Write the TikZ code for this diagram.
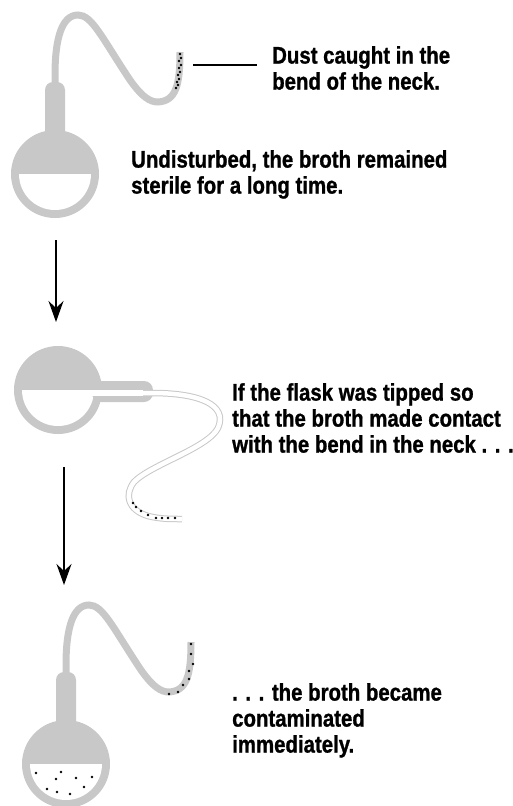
\documentclass[tikz,border=0pt]{standalone}
\usepackage{fontspec}
\setmainfont{Liberation Sans}[FakeStretch=0.85, BoldFeatures={FakeBold=1}]
\usetikzlibrary{arrows.meta}

\definecolor{glass}{RGB}{200,200,200}

\tikzset{
  caption/.style={anchor=north west, inner sep=0pt, align=left,
    font=\fontsize{24}{26}\selectfont\bfseries},
  speck/.style={fill=black},
  stepdown/.style={line width=1.6pt, -{Stealth[length=21pt,width=15pt,inset=7pt]}},
  leader/.style={line width=1.5pt, shorten >=15pt},
  % swan-neck flask standing upright
  flask/.pic={
    \fill[glass] (55,174) circle (44);
    \fill[white] (19,174) arc[start angle=180, end angle=0, radius=36] -- cycle;
    \fill[glass, rounded corners=8] (45,140) |- (65,82) -- (65,140) -- cycle;
    \draw[glass, line width=7pt] (55,95) -- (55,75)
      .. controls (55,38) and (62,15) .. (78,15)
      .. controls (92,15) and (102,38) .. (130,80)
      .. controls (142,97) and (150,102) .. (158,102)
      .. controls (176,101) and (180,85) .. (180,52);
  }
}

\begin{document}
\begin{tikzpicture}[x=1pt,y=-1pt]
  \useasboundingbox (0,0) rectangle (513,806);

  % upright flask, dust sits in the bend
  \pic at (0,0) {flask};
  \foreach \x/\y in {180/54,181/58,179/61,181/65,179/68,180/72,178/75,179/79,177/82,178/85,176/88}
    \fill[speck] (\x,\y) circle (1.3);
  \coordinate (dustmark) at (193,65);
  \node[caption] (dusttext) at (272,46) {Dust caught in the\\bend of the neck.};
  \draw[leader] (dustmark) -- (dustmark -| dusttext.west);
  \node[caption] (sterile) at (131,150) {Undisturbed, the broth remained\\sterile for a long time.};

  \coordinate (step1a) at (56,240);
  \coordinate (step1b) at (56,322);
  \draw[stepdown] (step1a) -- (step1b);

  % tipped flask, broth runs down into the neck
  \fill[glass] (58,390) circle (44);
  \fill[white] (22,390) arc[start angle=180, end angle=0, radius=36] -- cycle;
  \fill[glass, rounded corners=9] (92,381) -| (153,402) -- (92,402) -- cycle;
  \fill[white] (85,390) rectangle (143,396);
  \draw[glass, line width=1pt, double=white, double distance=4.5pt] (143,393) -- (152,393)
    .. controls (200,393) and (228,405) .. (218,428)
    .. controls (208,448) and (150,465) .. (134,482)
    .. controls (124,495) and (128,510) .. (148,516)
    .. controls (160,519) and (170,519) .. (182,519);
  \foreach \x/\y in {133/503,136/507,141/511,148/515,156/518,162/518,168/518,175/518}
    \fill[speck] (\x,\y) circle (1.3);
  \node[caption] (tipped) at (232,383) {If the flask was tipped so\\that the broth made contact\\with the bend in the neck . . .};

  \coordinate (step2a) at (64,467);
  \coordinate (step2b) at (64,585);
  \draw[stepdown] (step2a) -- (step2b);

  % upright again, broth full of specks
  \pic at (11,590) {flask};
  \begin{scope}[shift={(11,590)}]
    \foreach \x/\y in {180/54,180/64,182/74,178/81,178/89,172/95,167/102,158/104}
      \fill[speck] (\x,\y) circle (1.3);
  \end{scope}
  \foreach \x/\y in {36/773,61/772,56/779,76/778,92/777,47/789,57/792,70/794,84/787}
    \fill[speck] (\x,\y) circle (1.3);
  \node[caption] (spoiled) at (232,683) {. . . the broth became\\contaminated\\immediately.};
\end{tikzpicture}
\end{document}
